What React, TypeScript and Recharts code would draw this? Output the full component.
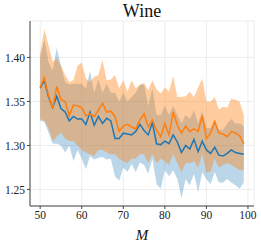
import { Area, CartesianGrid, ComposedChart, Line, XAxis, YAxis } from "recharts"

const ms = Array.from({ length: 50 }, (_, i) => 50 + i)

const blueMean = [
  1.365, 1.374, 1.355, 1.343, 1.356, 1.342, 1.338, 1.328, 1.333, 1.33,
  1.33, 1.324, 1.338, 1.323, 1.333, 1.325, 1.331, 1.328, 1.308, 1.308,
  1.314, 1.313, 1.312, 1.316, 1.324, 1.317, 1.312, 1.326, 1.302, 1.301,
  1.305, 1.302, 1.312, 1.304, 1.292, 1.3, 1.296, 1.307, 1.293, 1.305,
  1.295, 1.291, 1.298, 1.289, 1.288, 1.291, 1.295, 1.292, 1.291, 1.29,
]
const blueLow = [
  1.328, 1.327, 1.315, 1.302, 1.302, 1.3, 1.292, 1.3, 1.282, 1.295,
  1.285, 1.273, 1.288, 1.284, 1.286, 1.287, 1.284, 1.285, 1.265, 1.26,
  1.275, 1.27, 1.279, 1.27, 1.281, 1.278, 1.268, 1.285, 1.256, 1.251,
  1.272, 1.265, 1.272, 1.262, 1.24, 1.262, 1.255, 1.268, 1.247, 1.27,
  1.262, 1.256, 1.27, 1.258, 1.258, 1.262, 1.258, 1.255, 1.251, 1.258,
]
const blueHigh = [
  1.4, 1.42, 1.395, 1.385, 1.411, 1.39, 1.372, 1.369, 1.37, 1.37,
  1.37, 1.365, 1.385, 1.36, 1.375, 1.36, 1.37, 1.36, 1.36, 1.35,
  1.36, 1.35, 1.355, 1.36, 1.369, 1.369, 1.345, 1.365, 1.335, 1.335,
  1.345, 1.335, 1.345, 1.335, 1.325, 1.335, 1.33, 1.34, 1.325, 1.34,
  1.32, 1.32, 1.33, 1.318, 1.318, 1.325, 1.33, 1.325, 1.325, 1.322,
]
const orangeMean = [
  1.366, 1.377, 1.357, 1.342, 1.367, 1.352, 1.35, 1.334, 1.346, 1.345,
  1.343, 1.334, 1.336, 1.333, 1.34, 1.348, 1.338, 1.339, 1.333, 1.316,
  1.322, 1.324, 1.321, 1.319, 1.329, 1.336, 1.321, 1.329, 1.317, 1.31,
  1.325, 1.312, 1.338, 1.323, 1.314, 1.322, 1.316, 1.319, 1.316, 1.334,
  1.308, 1.314, 1.327, 1.314, 1.313, 1.31, 1.316, 1.314, 1.311, 1.302,
]
const orangeLow = [
  1.33, 1.328, 1.32, 1.305, 1.31, 1.315, 1.308, 1.305, 1.305, 1.3,
  1.295, 1.292, 1.29, 1.288, 1.295, 1.295, 1.292, 1.29, 1.29, 1.285,
  1.282, 1.28, 1.285, 1.285, 1.29, 1.29, 1.28, 1.29, 1.28, 1.285,
  1.282, 1.278, 1.29, 1.28, 1.27, 1.28, 1.28, 1.282, 1.275, 1.29,
  1.27, 1.27, 1.285, 1.275, 1.278, 1.28, 1.278, 1.275, 1.272, 1.272,
]
const orangeHigh = [
  1.405, 1.432, 1.414, 1.395, 1.399, 1.391, 1.38, 1.372, 1.374, 1.391,
  1.394, 1.376, 1.372, 1.378, 1.38, 1.397, 1.374, 1.375, 1.38, 1.365,
  1.374, 1.361, 1.374, 1.365, 1.369, 1.371, 1.363, 1.374, 1.364, 1.359,
  1.366, 1.361, 1.379, 1.355, 1.355, 1.356, 1.361, 1.355, 1.366, 1.376,
  1.35, 1.35, 1.355, 1.341, 1.344, 1.343, 1.353, 1.352, 1.35, 1.334,
]

const xTicks = [50, 60, 70, 80, 90, 100]
const yTicks = [1.25, 1.3, 1.35, 1.4]

const data = ms.map((m, i) => ({
  m,
  blue: blueMean[i],
  blueBand: [blueLow[i], blueHigh[i]],
  orange: orangeMean[i],
  orangeBand: [orangeLow[i], orangeHigh[i]],
}))

const font = "Liberation Serif"
const tickStyle = { fontFamily: font, fontSize: 11.5, fill: "#222" }

export default function App() {
  return (
    <div style={{ position: "relative", width: 261, height: 243, background: "#fff" }}>
      <style>{`body{margin:0}`}</style>
      <div
        style={{
          position: "absolute",
          left: 30,
          width: 224,
          top: 1,
          textAlign: "center",
          fontFamily: font,
          fontSize: 18,
          color: "#111",
        }}
      >
        Wine
      </div>
      <div
        style={{
          position: "absolute",
          left: 30,
          width: 224,
          top: 227,
          textAlign: "center",
          fontFamily: font,
          fontStyle: "italic",
          fontSize: 15,
          color: "#111",
        }}
      >
        M
      </div>
      <ComposedChart width={261} height={243} data={data} margin={{ top: 21, right: 7, bottom: 0, left: 0 }}>
        <CartesianGrid stroke="#e8e8e8" strokeWidth={0.8} />
        <XAxis
          dataKey="m"
          type="number"
          domain={[47.55, 101.45]}
          ticks={xTicks}
          allowDataOverflow
          height={37}
          tick={tickStyle}
          tickSize={3}
          tickMargin={2}
          stroke="#444"
        />
        <XAxis xAxisId="top" orientation="top" dataKey="m" type="number" domain={[47.55, 101.45]} tick={false} height={0} stroke="#444" />
        <YAxis
          type="number"
          domain={[1.2313, 1.4414]}
          ticks={yTicks}
          allowDataOverflow
          width={30}
          tick={tickStyle}
          tickSize={3}
          tickMargin={2}
          tickFormatter={(v: number) => v.toFixed(2)}
          stroke="#444"
        />
        <YAxis yAxisId="right" orientation="right" domain={[1.2313, 1.4414]} tick={false} width={0} stroke="#444" />
        <Area
          type="linear"
          dataKey="blueBand"
          stroke="none"
          fill="#1f77b4"
          fillOpacity={0.3}
          isAnimationActive={false}
        />
        <Area
          type="linear"
          dataKey="orangeBand"
          stroke="none"
          fill="#ff7f0e"
          fillOpacity={0.4}
          isAnimationActive={false}
        />
        <Line type="linear" dataKey="blue" stroke="#1f77b4" strokeWidth={1.5} dot={false} isAnimationActive={false} />
        <Line type="linear" dataKey="orange" stroke="#ff7f0e" strokeWidth={1.5} dot={false} isAnimationActive={false} />
      </ComposedChart>
    </div>
  )
}
